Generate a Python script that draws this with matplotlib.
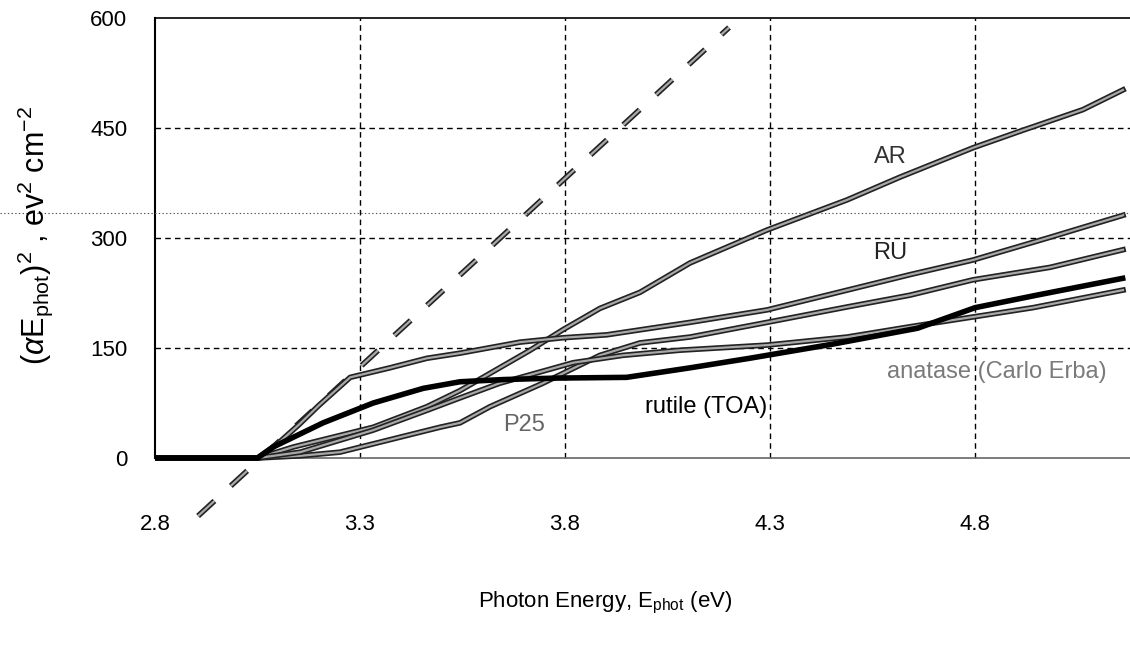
import matplotlib.pyplot as plt
import matplotlib.patheffects as pe
from matplotlib.lines import Line2D

plt.rcParams['font.family'] = ['Liberation Sans', 'DejaVu Sans']
plt.rcParams['mathtext.fontset'] = 'custom'
plt.rcParams['mathtext.rm'] = 'Liberation Sans'
plt.rcParams['mathtext.it'] = 'Liberation Sans:italic'
plt.rcParams['lines.scale_dashes'] = False

# photon energy (eV) vs (alpha*E)^2
ar_x = [2.8, 3.051, 3.137, 3.332, 3.463, 3.544, 3.600, 3.715, 3.795, 3.885, 3.983,
        4.105, 4.293, 4.488, 4.617, 4.795, 4.917, 5.063, 5.161]
ar_y = [0, 0, 15, 42, 70, 92, 110, 147, 175, 204, 226, 266, 311, 352, 383, 423, 447, 475, 502]

ru_x = [2.8, 3.05, 3.10, 3.15, 3.20, 3.276, 3.373, 3.463, 3.544, 3.690, 3.795, 3.902,
        4.105, 4.293, 4.641, 4.795, 4.983, 5.161]
ru_y = [0, 0, 20, 45, 72, 110, 123, 136, 143, 158, 164, 168, 185, 202, 250, 270, 301, 331]

p25_x = [2.8, 3.05, 3.154, 3.251, 3.373, 3.495, 3.544, 3.617, 3.746, 3.885, 3.983,
         4.105, 4.293, 4.488, 4.641, 4.795, 4.983, 5.161]
p25_y = [0, 0, 3, 8, 25, 42, 48, 70, 102, 140, 157, 165, 185, 206, 222, 243, 260, 284]

anat_x = [2.8, 3.05, 3.154, 3.332, 3.463, 3.544, 3.641, 3.820, 3.941, 4.080, 4.293,
          4.488, 4.641, 4.941, 5.161]
anat_y = [0, 0, 8, 38, 65, 82, 102, 130, 140, 147, 154, 165, 179, 205, 229]

rut_x = [2.8, 3.05, 3.088, 3.21, 3.332, 3.454, 3.544, 3.65, 3.78, 3.95, 4.105, 4.25,
         4.45, 4.66, 4.80, 4.95, 5.16]
rut_y = [0, 0, 15, 48, 75, 95, 104, 107, 109, 110, 123, 136, 155, 177, 205, 222, 245]

tangent_x = [2.905, 4.20]
tangent_y = [-79, 587]

xticks = [2.8, 3.3, 3.8, 4.3, 4.8]
yticks = [0, 150, 300, 450, 600]

fig = plt.figure(figsize=(11.3, 6.59), dpi=100)
ax = fig.add_axes([0.1372, 0.2215, 0.8628, 0.7512])
ax.set_xlim(2.8, 5.178)
ax.set_ylim(-75, 600)

# grid
ax.vlines(xticks[1:], 0, 600, colors='k', linestyles=(0, (4, 3)), lw=1)
ax.hlines(yticks[1:4], 2.8, 5.178, colors='k', linestyles=(0, (4, 3)), lw=1)
ax.axhline(0, color='#666666', lw=1.2)

double = [pe.Stroke(linewidth=4, foreground='#222222'), pe.Normal()]

ax.plot(tangent_x, tangent_y, color='#aaaaaa', lw=1.6, ls=(0, (16, 16)),
        path_effects=double, clip_on=False, zorder=3)
for xs, ys in [(ar_x, ar_y), (ru_x, ru_y), (p25_x, p25_y), (anat_x, anat_y)]:
    ax.plot(xs, ys, color='#a8a8a8', lw=1.6, path_effects=double, zorder=4)
ax.plot(rut_x, rut_y, color='black', lw=4, zorder=5)

ax.text(4.593, 410, 'AR', fontsize=17, color='#333333', ha='center', va='center')
ax.text(4.593, 280, 'RU', fontsize=17, color='#222222', ha='center', va='center')
ax.text(3.700, 45, 'P25', fontsize=17, color='#666666', ha='center', va='center')
ax.text(4.144, 70, 'rutile (TOA)', fontsize=17, color='black', ha='center', va='center')
ax.text(4.854, 117, 'anatase (Carlo Erba)', fontsize=17, color='#7a7a7a',
        ha='center', va='center')

for s in ['right', 'bottom']:
    ax.spines[s].set_visible(False)
ax.spines['left'].set_bounds(0, 600)
ax.spines['left'].set_linewidth(1.5)
ax.spines['top'].set_linewidth(1.2)

ax.set_xticks(xticks)
ax.set_xticklabels([str(v) for v in xticks])
ax.set_yticks(yticks)
ax.set_yticklabels([str(v) for v in yticks])
ax.tick_params(axis='x', length=0, pad=1, labelsize=16)
ax.tick_params(axis='y', length=0, pad=20, labelsize=16)

fig.text(35 / 1130, 1 - 235 / 659,
         r'($\alpha$E$_{\rm phot}$)$^2$ , ev$^2$ cm$^{-2}$',
         rotation=90, ha='center', va='center', fontsize=22)
fig.text(605 / 1130, 1 - 603 / 659, r'Photon Energy, E$_{\rm phot}$ (eV)',
         ha='center', va='center', fontsize=16)

# scan artefact: faint dotted line across the page
fig.add_artist(Line2D([0, 1], [1 - 213 / 659, 1 - 213 / 659], transform=fig.transFigure,
                      ls=':', lw=0.8, color='#555555'))

fig.savefig('out.png', dpi=100)
